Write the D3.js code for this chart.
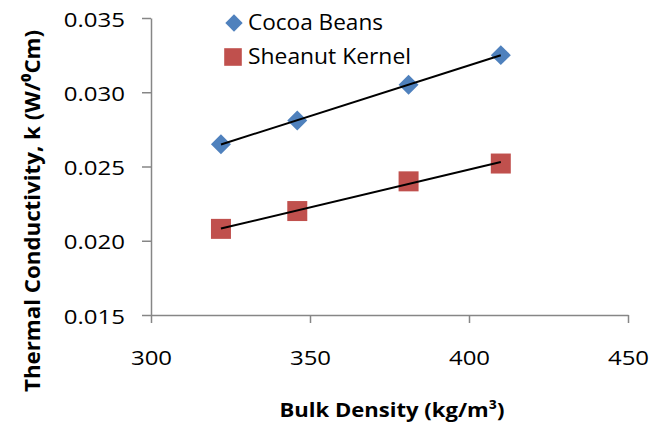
<!DOCTYPE html>
<html>
<head>
<meta charset="utf-8">
<script src="https://cdn.jsdelivr.net/npm/d3@7"></script>
<style>
  html, body { margin: 0; padding: 0; background: #fff; }
  svg { display: block; }
  text { font-family: "Open Sans", sans-serif; fill: #000; }
</style>
</head>
<body>
<svg id="chart" width="661" height="423"></svg>
<script>
// ---- data ----
const bulkDensity = [322, 346, 381, 410];
const cocoaBeans = [0.0265, 0.0281, 0.0305, 0.0325];
const sheanutKernel = [0.0208, 0.0220, 0.0240, 0.0252];
const seriesNames = ["Cocoa Beans", "Sheanut Kernel"];
const xTicks = [300, 350, 400, 450];
const yTicks = [0.015, 0.020, 0.025, 0.030, 0.035];
const xTitle = "Bulk Density (kg/m³)";
const yTitle = "Thermal Conductivity, k (W/⁰Cm)";

// ---- layout ----
const plot = { left: 151, right: 628, top: 18, bottom: 315 };
const axisColor = "#868686";
const colors = ["#4F81BD", "#C0504D"];
const sx = 1.2; // horizontal glyph stretch of the reference

const svg = d3.select("#chart");
const x = d3.scaleLinear().domain([300, 450]).range([plot.left, plot.right]);
const y = d3.scaleLinear().domain([0.015, 0.035]).range([plot.bottom, plot.top]);

// axes
const gx = svg.append("g").attr("transform", `translate(0,${plot.bottom})`)
  .call(d3.axisBottom(x).tickValues(xTicks).tickSize(8).tickSizeOuter(0).tickFormat(d3.format("d")));
const gy = svg.append("g").attr("transform", `translate(${plot.left},0)`)
  .call(d3.axisLeft(y).tickValues(yTicks).tickSize(9).tickSizeOuter(0).tickFormat(d3.format(".3f")));

[gx, gy].forEach(g => {
  g.select(".domain").attr("stroke", axisColor).attr("stroke-width", 1.5);
  g.selectAll(".tick line").attr("stroke", axisColor).attr("stroke-width", 1.5);
  g.selectAll(".tick text").attr("font-family", "Open Sans").attr("font-size", 20).attr("fill", "#000");
});
gx.selectAll(".tick text").attr("y", null).attr("dy", null)
  .attr("transform", `translate(0,50) scale(${sx},1)`);
gy.selectAll(".tick text").attr("x", null).attr("dy", "0.36em")
  .attr("transform", `translate(-26,1) scale(${sx},1)`);

// regression helper
function fit(xs, ys) {
  const mx = d3.mean(xs), my = d3.mean(ys);
  let num = 0, den = 0;
  xs.forEach((v, i) => { num += (v - mx) * (ys[i] - my); den += (v - mx) ** 2; });
  const b = num / den, a = my - b * mx;
  return v => a + b * v;
}

const series = [cocoaBeans, sheanutKernel];
const symbols = [
  d3.symbol(d3.symbolSquare, 200)(),
  d3.symbol(d3.symbolSquare, 400)()
];
const rot = [45, 0];

series.forEach((vals, s) => {
  const g = svg.append("g");
  g.selectAll("path.pt").data(bulkDensity.map((d, i) => [d, vals[i]]))
    .join("path").attr("class", "pt")
    .attr("d", symbols[s])
    .attr("fill", colors[s])
    .attr("transform", d => `translate(${x(d[0])},${y(d[1])}) rotate(${rot[s]})`);
});
series.forEach((vals, s) => {
  const f = fit(bulkDensity, vals);
  const x0 = d3.min(bulkDensity), x1 = d3.max(bulkDensity);
  svg.append("line")
    .attr("x1", x(x0)).attr("y1", y(f(x0)))
    .attr("x2", x(x1)).attr("y2", y(f(x1)))
    .attr("stroke", "#000").attr("stroke-width", 2);
});

// legend
const legend = svg.append("g");
const legendRows = [{ cy: 23, ty: 30 }, { cy: 57, ty: 64 }];
const legendSymbols = [d3.symbol(d3.symbolSquare, 150)(), d3.symbol(d3.symbolSquare, 310)()];
const legendWidths = [135, 163];
seriesNames.forEach((name, s) => {
  legend.append("path").attr("d", legendSymbols[s]).attr("fill", colors[s])
    .attr("transform", `translate(${s === 0 ? 234 : 233},${legendRows[s].cy}) rotate(${rot[s]})`);
  legend.append("text").attr("x", 248).attr("y", legendRows[s].ty)
    .attr("font-size", 21)
    .attr("textLength", legendWidths[s]).attr("lengthAdjust", "spacingAndGlyphs")
    .text(name);
});

// axis titles
svg.append("text")
  .attr("x", 392).attr("y", 417)
  .attr("text-anchor", "middle").attr("font-weight", "bold").attr("font-size", 20)
  .attr("textLength", 225).attr("lengthAdjust", "spacingAndGlyphs")
  .text(xTitle);

svg.append("text")
  .attr("transform", `translate(40,211) rotate(-90) scale(1,${sx})`)
  .attr("text-anchor", "middle").attr("font-weight", "bold").attr("font-size", 18.5)
  .attr("textLength", 362).attr("lengthAdjust", "spacingAndGlyphs")
  .text(yTitle);
</script>
</body>
</html>
